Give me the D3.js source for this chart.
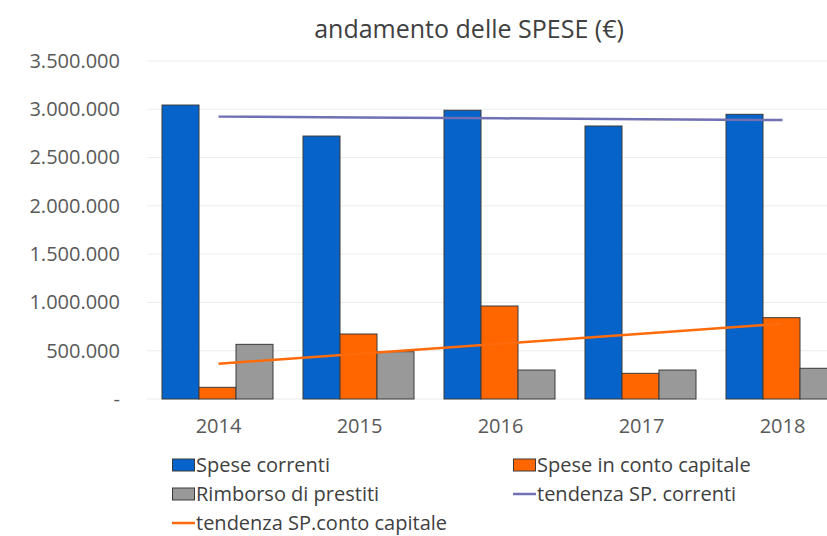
<!DOCTYPE html>
<html>
<head>
<meta charset="utf-8">
<script src="https://cdn.jsdelivr.net/npm/d3@7"></script>
<style>
body { margin: 0; background: #fff; }
svg { display: block; font-family: "Open Sans", "Liberation Sans", sans-serif; }
</style>
</head>
<body>
<svg id="graph" width="827" height="536"></svg>
<script>
const anni = ['2014', '2015', '2016', '2017', '2018'];
const speseCorrenti = [3044000, 2723000, 2990000, 2827000, 2948000];
const speseCapitale = [121000, 673000, 963000, 266000, 842000];
const rimborsoPrestiti = [566000, 490000, 300000, 300000, 318000];
const yTicks = [0, 500000, 1000000, 1500000, 2000000, 2500000, 3000000, 3500000];

const serie = [
  { nome: 'Spese correnti', valori: speseCorrenti, colore: '#0563c9' },
  { nome: 'Spese in conto capitale', valori: speseCapitale, colore: '#ff6600' },
  { nome: 'Rimborso di prestiti', valori: rimborsoPrestiti, colore: '#999999' }
];

const svg = d3.select('#graph');

// area del grafico (il lato destro esce dall'immagine, come nell'originale)
const pLeft = 148, pTop = 61, pBottom = 399;
const bandW = 141;
const pRight = pLeft + bandW * anni.length;

const yScale = d3.scaleLinear().domain([0, 3500000]).range([pBottom, pTop]);
const xScale = d3.scaleBand().domain(anni).range([pLeft, pRight]).paddingInner(0).paddingOuter(0);
const xSub = d3.scaleBand().domain(d3.range(serie.length))
  .range([14, bandW - 16]).padding(0);

const fmt = (v) => v === 0 ? '-' : d3.format(',')(v).replace(/,/g, '.');

// griglia
svg.append('g')
  .selectAll('line')
  .data(yTicks)
  .enter()
  .append('line')
  .attr('x1', pLeft - 1)
  .attr('x2', pRight)
  .attr('y1', (d) => yScale(d))
  .attr('y2', (d) => yScale(d))
  .attr('stroke', '#ececec')
  .attr('stroke-width', 1);

// asse Y
const yAxis = svg.append('g')
  .attr('transform', `translate(${pLeft - 25}, 0)`)
  .call(d3.axisLeft(yScale).tickValues(yTicks).tickFormat(fmt).tickSize(0));
yAxis.select('.domain').remove();
yAxis.selectAll('text')
  .attr('font-size', '20px')
  .attr('fill', '#595959')
  .attr('font-family', '"Open Sans", sans-serif');

// asse X
const xAxis = svg.append('g')
  .attr('transform', `translate(0, ${pBottom + 17})`)
  .call(d3.axisBottom(xScale).tickSize(0));
xAxis.select('.domain').remove();
xAxis.selectAll('text')
  .attr('font-size', '20px')
  .attr('fill', '#595959')
  .attr('font-family', '"Open Sans", sans-serif');

// barre
serie.forEach((s, k) => {
  svg.append('g')
    .selectAll('rect')
    .data(s.valori)
    .enter()
    .append('rect')
    .attr('x', (d, i) => xScale(anni[i]) + xSub(k))
    .attr('y', (d) => yScale(d))
    .attr('width', xSub.bandwidth())
    .attr('height', (d) => pBottom - yScale(d))
    .attr('fill', s.colore)
    .attr('stroke', '#3a3a3a')
    .attr('stroke-width', 1);
});

// linee di tendenza (regressione lineare)
function tendenza(valori) {
  const n = valori.length;
  const xs = d3.range(n);
  const mx = d3.mean(xs), my = d3.mean(valori);
  const b = d3.sum(xs, (x, i) => (x - mx) * (valori[i] - my)) / d3.sum(xs, (x) => (x - mx) * (x - mx));
  return xs.map((x) => my + b * (x - mx));
}

const linea = d3.line()
  .x((d, i) => xScale(anni[i]) + bandW / 2)
  .y((d) => yScale(d));

svg.append('path')
  .attr('d', linea(tendenza(speseCorrenti)))
  .attr('fill', 'none')
  .attr('stroke', '#7070b4')
  .attr('stroke-width', 2.5);

svg.append('path')
  .attr('d', linea(tendenza(speseCapitale)))
  .attr('fill', 'none')
  .attr('stroke', '#ff6a0a')
  .attr('stroke-width', 2.5);

// titolo
svg.append('text')
  .attr('x', 469)
  .attr('y', 38)
  .attr('text-anchor', 'middle')
  .attr('font-size', '25px')
  .attr('fill', '#404040')
  .text('andamento delle SPESE (€)');

// legenda
const legenda = [
  { nome: 'Spese correnti', tipo: 'rect', colore: '#0563c9', x: 172, y: 465 },
  { nome: 'Spese in conto capitale', tipo: 'rect', colore: '#ff6600', x: 513, y: 465 },
  { nome: 'Rimborso di prestiti', tipo: 'rect', colore: '#999999', x: 172, y: 494 },
  { nome: 'tendenza SP. correnti', tipo: 'line', colore: '#7070b4', x: 513, y: 494 },
  { nome: 'tendenza SP.conto capitale', tipo: 'line', colore: '#ff6a0a', x: 172, y: 523 }
];

const voci = svg.append('g')
  .selectAll('g')
  .data(legenda)
  .enter()
  .append('g')
  .attr('transform', (d) => `translate(${d.x}, ${d.y})`);

voci.filter((d) => d.tipo === 'rect')
  .append('rect')
  .attr('x', 0.5)
  .attr('y', -6)
  .attr('width', 22)
  .attr('height', 12)
  .attr('fill', (d) => d.colore)
  .attr('stroke', '#3a3a3a')
  .attr('stroke-width', 1);

voci.filter((d) => d.tipo === 'line')
  .append('line')
  .attr('x1', 0)
  .attr('x2', 23)
  .attr('y1', 0)
  .attr('y2', 0)
  .attr('stroke', (d) => d.colore)
  .attr('stroke-width', 2.5);

voci.append('text')
  .attr('x', 24)
  .attr('y', 0)
  .attr('dy', '0.35em')
  .attr('font-size', '20px')
  .attr('fill', '#404040')
  .text((d) => d.nome);
</script>
</body>
</html>
